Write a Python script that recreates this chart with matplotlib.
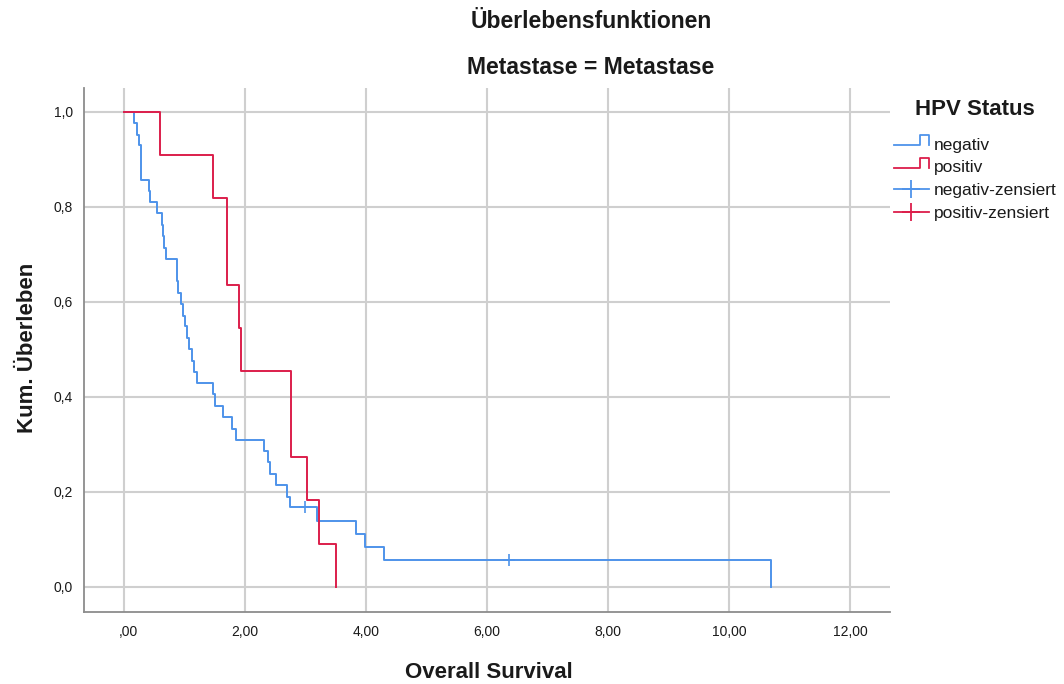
import matplotlib
matplotlib.use("Agg")
import matplotlib.pyplot as plt
from matplotlib.lines import Line2D
from matplotlib.legend_handler import HandlerBase, HandlerLine2D
from matplotlib.transforms import ScaledTranslation

plt.rcParams['font.family'] = ['Liberation Sans', 'DejaVu Sans']

# ---- data ----
title_main = "Überlebensfunktionen"
title_sub = "Metastase = Metastase"
x_label = "Overall Survival"
y_label = "Kum. Überleben"
legend_title = "HPV Status"
group_labels = ["negativ", "positiv", "negativ-zensiert", "positiv-zensiert"]

neg_times = [0.0, 0.165, 0.21, 0.25, 0.275, 0.28, 0.29, 0.41, 0.43, 0.54, 0.63, 0.65,
             0.67, 0.69, 0.87, 0.875, 0.90, 0.94, 0.97, 1.01, 1.05, 1.08, 1.12, 1.16,
             1.20, 1.47, 1.50, 1.64, 1.79, 1.85, 2.31, 2.375, 2.41, 2.51, 2.69, 2.74,
             3.19, 3.83, 3.98, 4.30, 10.69]
neg_surv = [1.0, 0.976, 0.952, 0.929, 0.905, 0.881, 0.857, 0.833, 0.810, 0.786, 0.762,
            0.738, 0.714, 0.690, 0.667, 0.643, 0.619, 0.595, 0.571, 0.548, 0.524, 0.500,
            0.476, 0.452, 0.429, 0.405, 0.381, 0.357, 0.333, 0.310, 0.286, 0.262, 0.238,
            0.214, 0.190, 0.167, 0.139, 0.111, 0.083, 0.056, 0.0]
neg_cens_times = [3.0, 6.36]
neg_cens_surv = [0.167, 0.056]

pos_times = [0.0, 0.595, 1.476, 1.697, 1.71, 1.90, 1.93, 2.76, 2.765, 3.02, 3.23, 3.50]
pos_surv = [1.0, 0.909, 0.818, 0.727, 0.636, 0.545, 0.455, 0.364, 0.273, 0.182, 0.091, 0.0]
pos_cens_times = []
pos_cens_surv = []

x_ticks = [0, 2, 4, 6, 8, 10, 12]
x_tick_labels = [",00", "2,00", "4,00", "6,00", "8,00", "10,00", "12,00"]
y_ticks = [0.0, 0.2, 0.4, 0.6, 0.8, 1.0]
y_tick_labels = ["0,0", "0,2", "0,4", "0,6", "0,8", "1,0"]

# ---- style ----
BLUE = "#4E93EA"
RED = "#DC1E4B"
GRID = "#cfcfcf"
SPINE = "#8c8c8c"
TXT = "#1a1a1a"

W, H = 1064, 684
fig = plt.figure(figsize=(W / 100, H / 100), dpi=100)
ax = fig.add_axes([84 / W, 1 - 612 / H, (890 - 84) / W, (612 - 88) / H])

ax.set_xlim(-0.66, 12.66)
ax.set_ylim(-0.053, 1.05)

ax.step(neg_times, neg_surv, where="post", color=BLUE, lw=1.4, zorder=3)
ax.plot(neg_cens_times, neg_cens_surv, ls="none", marker="+", ms=8, mew=1.2,
        color=BLUE, zorder=4)
ax.step(pos_times, pos_surv, where="post", color=RED, lw=1.4, zorder=3)
if pos_cens_times:
    ax.plot(pos_cens_times, pos_cens_surv, ls="none", marker="+", ms=8, mew=1.2,
            color=RED, zorder=4)

ax.set_xticks(x_ticks)
ax.set_xticklabels(x_tick_labels)
ax.set_yticks(y_ticks)
ax.set_yticklabels(y_tick_labels)
ax.tick_params(axis="both", length=0, labelsize=10, colors=TXT)
ax.tick_params(axis="x", pad=9)
ax.tick_params(axis="y", pad=8)
ax.grid(True, color=GRID, lw=1.5, zorder=0)
ax.set_axisbelow(True)
for s in ["top", "right"]:
    ax.spines[s].set_visible(False)
for s in ["left", "bottom"]:
    ax.spines[s].set_color(SPINE)
    ax.spines[s].set_linewidth(1.3)

# the ",00" label sits where "0,00" would, i.e. slightly right of its gridline
lab0 = ax.get_xticklabels()[0]
lab0.set_transform(lab0.get_transform() + ScaledTranslation(4 / 100, 0, fig.dpi_scale_trans))

fig.text(591 / W, 1 - 21 / H, title_main, ha="center", va="center",
         fontsize=16.5, fontweight="bold", color=TXT)
fig.text(591 / W, 1 - 67 / H, title_sub, ha="center", va="center",
         fontsize=16.5, fontweight="bold", color=TXT)
fig.text(489 / W, 1 - 673 / H, x_label, ha="center", va="center",
         fontsize=16, fontweight="bold", color=TXT)
fig.text(28 / W, 1 - 348 / H, y_label, ha="center", va="center", rotation=90,
         fontsize=16, fontweight="bold", color=TXT)


class StepHandler(HandlerBase):
    def create_artists(self, legend, orig_handle, xdescent, ydescent, width,
                       height, fontsize, trans):
        x0 = -xdescent
        y0 = -ydescent
        lo = y0 + 0.40 * height
        hi = y0 + 1.20 * height
        xs = [x0, x0 + 0.74 * width, x0 + 0.74 * width, x0 + width, x0 + width]
        ys = [lo, lo, hi, hi, lo]
        ln = Line2D(xs, ys, color=orig_handle.get_color(),
                    lw=orig_handle.get_linewidth(), transform=trans)
        return [ln]


h_neg = Line2D([], [], color=BLUE, lw=1.3)
h_pos = Line2D([], [], color=RED, lw=1.3)
h_negc = Line2D([], [], color=BLUE, lw=1.3, marker="+", ms=13, mew=1.3)
h_posc = Line2D([], [], color=RED, lw=1.3, marker="+", ms=13, mew=1.3)

leg = ax.legend([h_neg, h_pos, h_negc, h_posc], group_labels,
                title=legend_title, loc="upper left",
                bbox_to_anchor=(894 / W, 1 - 99 / H), bbox_transform=fig.transFigure,
                frameon=False, fontsize=12.5, handlelength=2.0, handletextpad=0.3,
                labelspacing=0.45, borderpad=0, borderaxespad=0,
                title_fontproperties={"size": 16, "weight": "bold"},
                handler_map={h_neg: StepHandler(), h_pos: StepHandler(),
                             h_negc: HandlerLine2D(numpoints=1),
                             h_posc: HandlerLine2D(numpoints=1)})
for t in leg.get_texts():
    t.set_color(TXT)
leg.get_title().set_color(TXT)
try:
    leg._legend_box.sep = 12.5
except Exception:
    pass

fig.savefig("out.png", dpi=100)
